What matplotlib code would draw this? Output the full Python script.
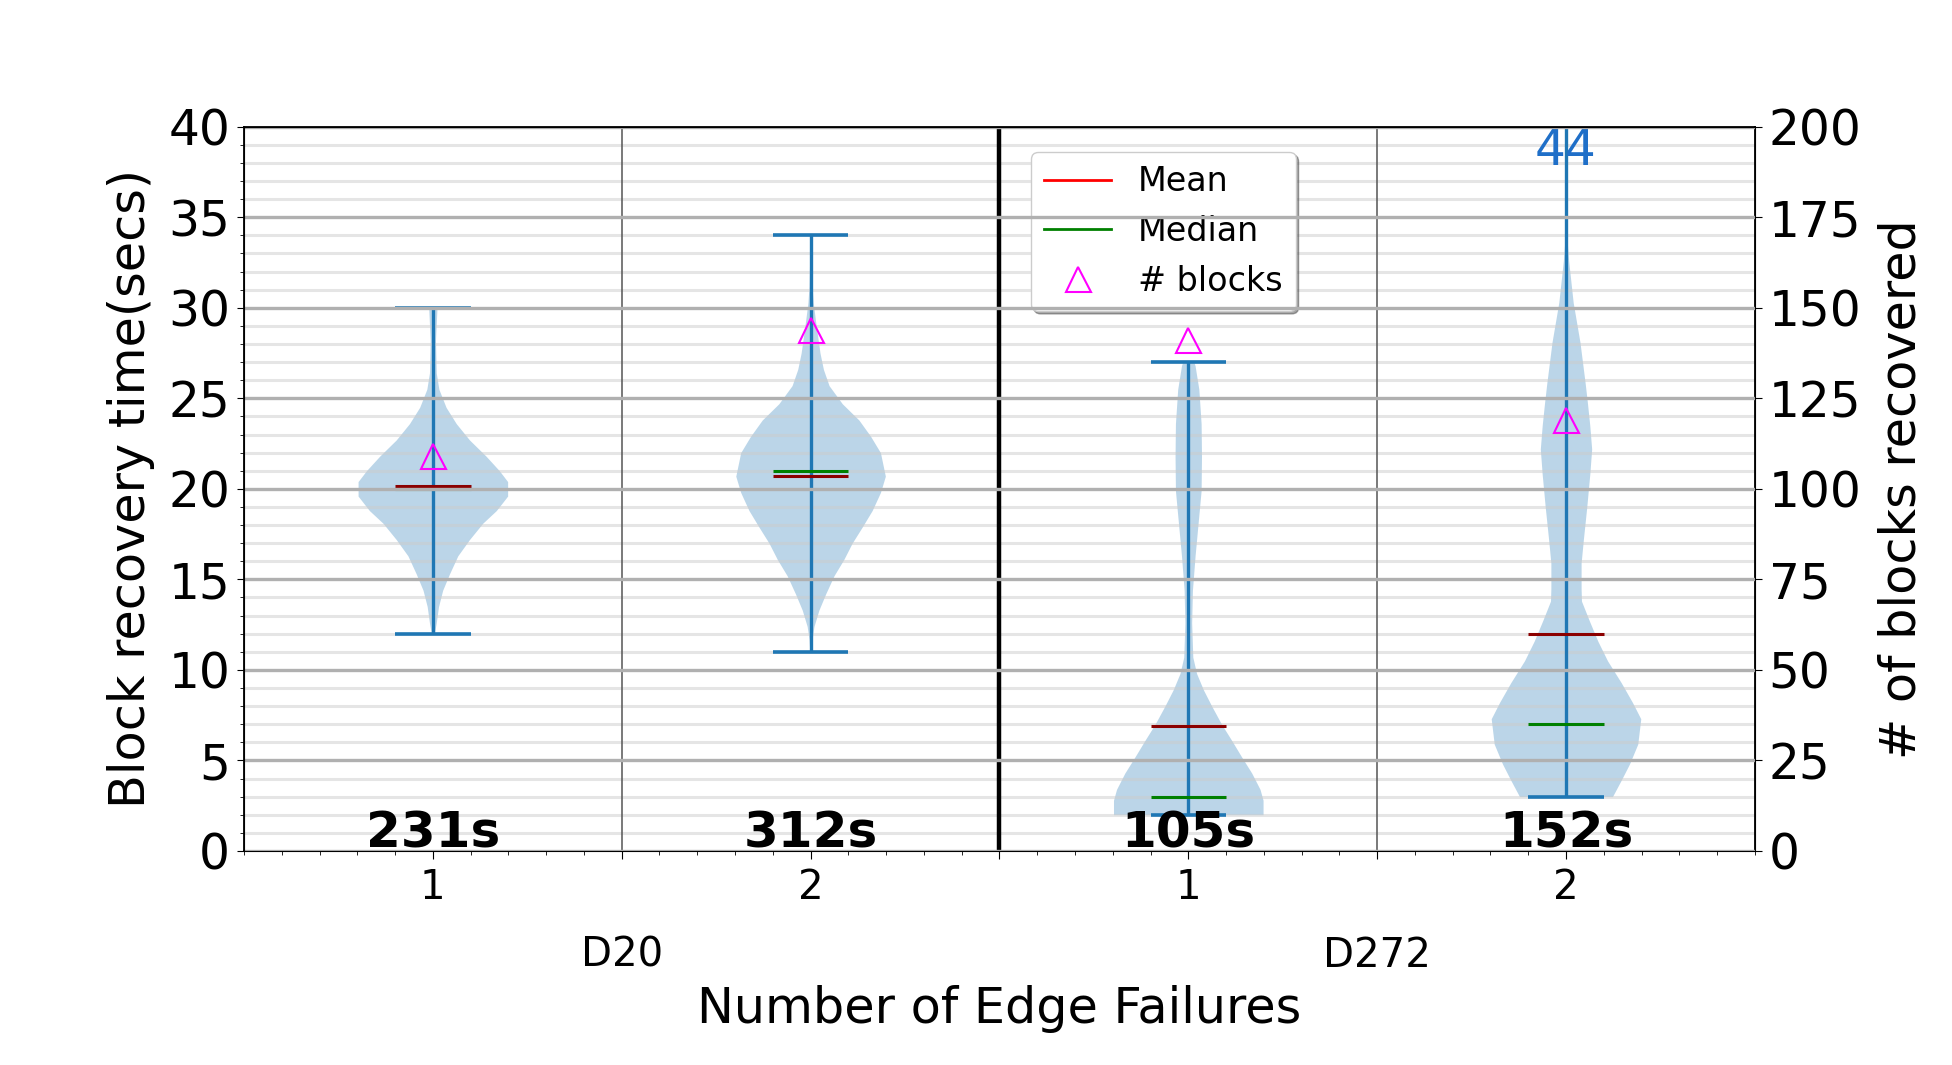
import matplotlib
matplotlib.use('Agg')
import matplotlib.pyplot as plt
from matplotlib.lines import Line2D
from matplotlib.ticker import MultipleLocator

positions = [1, 2, 3, 4]
tick_labels = ['1', '', '2', '', '1', '', '2']
groups = ['D20', 'D272']
group_pos = [1.5, 3.5]

mins = [12, 11, 2, 3]
maxs = [30, 34, 27, 44]
means = [20.15, 20.7, 6.9, 12.0]
medians = [20.0, 21.0, 3.0, 7.0]
blocks = [109, 144, 141, 119]
totals = ['231s', '312s', '105s', '152s']

# violin outlines: time (secs) and half width (x units)
v1_y = [12.0, 12.6, 13.5, 14.4, 15.3, 16.3, 17.2, 18.1, 18.8, 19.6, 20.4, 21.0,
        21.8, 22.7, 23.6, 24.5, 25.5, 26.4, 28.2, 30.0]
v1_w = [0.004, 0.009, 0.015, 0.026, 0.044, 0.066, 0.097, 0.132, 0.168, 0.198, 0.198,
        0.176, 0.141, 0.097, 0.062, 0.035, 0.016, 0.009, 0.007, 0.011]
v2_y = [11.0, 11.7, 12.4, 13.3, 14.2, 15.2, 16.1, 17.0, 17.9, 18.8, 19.8, 20.7,
        22.0, 22.9, 23.8, 24.7, 25.7, 26.6, 27.5, 29.3, 30.3, 31.2, 34.0]
v2_w = [0.002, 0.004, 0.009, 0.022, 0.040, 0.062, 0.088, 0.110, 0.137, 0.163, 0.185,
        0.198, 0.185, 0.159, 0.128, 0.084, 0.049, 0.034, 0.025, 0.013, 0.007, 0.004, 0.001]
v3_y = [2.0, 2.8, 3.4, 4.3, 5.2, 6.1, 7.0, 8.0, 8.9, 9.8, 10.7, 12.6, 14.4, 16.3,
        18.1, 19.9, 21.8, 23.6, 25.5, 26.8, 27.0]
v3_w = [0.198, 0.198, 0.190, 0.168, 0.141, 0.115, 0.088, 0.062, 0.040, 0.022, 0.012,
        0.009, 0.011, 0.018, 0.026, 0.034, 0.035, 0.034, 0.028, 0.018, 0.015]
v4_y = [3.0, 3.9, 4.8, 5.9, 7.3, 8.2, 9.3, 10.5, 11.6, 12.7, 13.8, 14.5, 15.9, 17.2,
        19.0, 20.8, 22.2, 23.5, 24.7, 25.8, 28.1, 30.3, 32.6, 33.7, 36.0, 44.0]
v4_w = [0.123, 0.146, 0.168, 0.190, 0.198, 0.176, 0.146, 0.110, 0.084, 0.062, 0.041,
        0.040, 0.040, 0.046, 0.055, 0.063, 0.068, 0.063, 0.057, 0.051, 0.037, 0.019,
        0.007, 0.003, 0.001, 0.0]

profiles = [(v1_y, v1_w), (v2_y, v2_w), (v3_y, v3_w), (v4_y, v4_w)]

blue = '#1f77b4'
half_bar = 0.1

fig = plt.figure(figsize=(19.52, 10.65), dpi=100)
ax = fig.add_axes([0.125, 0.201, 0.774, 0.68])

for pos, (ys, ws) in zip(positions, profiles):
    left = [pos - w for w in ws]
    right = [pos + w for w in ws]
    ax.fill_betweenx(ys, left, right, color=blue, alpha=0.3, lw=0, zorder=1)

ax.vlines(positions, mins, maxs, color=blue, lw=2.4, zorder=3)
lo = [p - half_bar for p in positions]
hi = [p + half_bar for p in positions]
ax.hlines(mins, lo, hi, color=blue, lw=2.6, zorder=3)
ax.hlines(maxs, lo, hi, color=blue, lw=2.6, zorder=3)
ax.hlines(medians, lo, hi, color='green', lw=2.2, zorder=4)
ax.hlines(means, lo, hi, color='darkred', lw=2.2, zorder=4)

for pos, t in zip(positions, totals):
    ax.text(pos, 0.2, t, ha='center', va='baseline', fontsize=36, fontweight='bold', zorder=6)

# max of last violin is off the scale, print it at the top
ax.text(positions[3], 40, f'{maxs[3]}', ha='center', va='top', fontsize=35,
        color='#1f6fc8', zorder=6)

ax.axvline(1.5, color='#555555', lw=1.1, zorder=2)
ax.axvline(2.5, color='black', lw=3.2, zorder=2)
ax.axvline(3.5, color='#555555', lw=1.1, zorder=2)

ax.set_xlim(0.5, 4.5)
ax.set_ylim(0, 40)
ax.set_xticks([1, 1.5, 2, 2.5, 3, 3.5, 4])
ax.set_xticklabels(tick_labels)
ax.xaxis.set_minor_locator(MultipleLocator(0.1))
ax.yaxis.set_major_locator(MultipleLocator(5))
ax.yaxis.set_minor_locator(MultipleLocator(1))
ax.tick_params(axis='x', which='major', labelsize=29, pad=6, length=6)
ax.tick_params(axis='x', which='minor', length=3)
ax.tick_params(axis='y', which='major', labelsize=35, pad=5, length=5)
ax.tick_params(axis='y', which='minor', length=3)
ax.grid(which='minor', axis='y', color='#cccccc', alpha=0.5, lw=2.2)
for s in ax.spines.values():
    s.set_linewidth(1.3)

for gp, g in zip(group_pos, groups):
    ax.text(gp, -0.145, g, transform=ax.get_xaxis_transform(), ha='center',
            va='center', fontsize=29)

ax.set_xlabel('Number of Edge Failures', fontsize=35.5)
ax.xaxis.set_label_coords(0.5, -0.185)
ax.set_ylabel('Block recovery time(secs)', fontsize=35.5)
ax.yaxis.set_label_coords(-0.059, 0.5)

handles = [Line2D([], [], color='red', lw=2),
           Line2D([], [], color='green', lw=2),
           Line2D([], [], ls='none', marker='^', mfc='none', mec='magenta', ms=18, mew=1.5)]
ax.legend(handles, ['Mean', 'Median', '# blocks'], loc='upper left',
          bbox_to_anchor=(0.521, 0.965), borderaxespad=0, fontsize=24, shadow=True)

ax2 = ax.twinx()
ax2.plot(positions, blocks, ls='none', marker='^', mfc='none', mec='magenta', ms=18, mew=1.5)
ax2.set_ylim(0, 200)
ax2.yaxis.set_major_locator(MultipleLocator(25))
ax2.tick_params(axis='y', labelsize=35, pad=5, length=5)
ax2.grid(which='major', axis='y', color='#b0b0b0', lw=2.4)
ax2.set_ylabel('# of blocks recovered', fontsize=35.5)
ax2.yaxis.set_label_coords(1.081, 0.5)

fig.savefig('out.png', dpi=100)
